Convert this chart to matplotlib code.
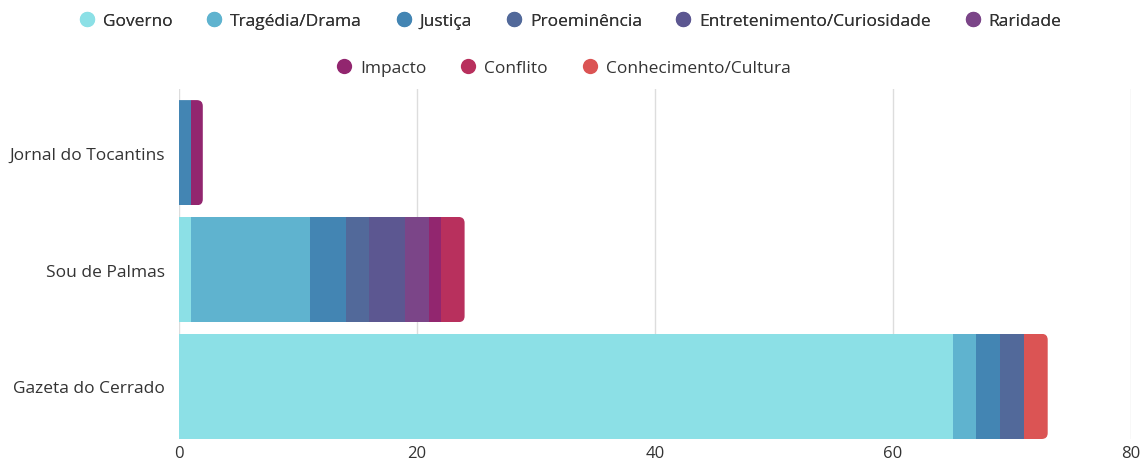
import matplotlib
matplotlib.use("Agg")
import matplotlib.pyplot as plt
from matplotlib.patches import FancyBboxPatch
from matplotlib.lines import Line2D

plt.rcParams['font.family'] = ['Open Sans', 'DejaVu Sans']

outlets = ["Jornal do Tocantins", "Sou de Palmas", "Gazeta do Cerrado"]
categories = ["Governo", "Tragédia/Drama", "Justiça", "Proeminência",
              "Entretenimento/Curiosidade", "Raridade", "Impacto", "Conflito",
              "Conhecimento/Cultura"]
colors = ["#8ce0e6", "#5fb3cf", "#4385b3", "#52699a", "#5c5791",
          "#7b4588", "#92266f", "#b8305d", "#db5454"]
# values per category, in order of outlets
governo = [0, 1, 65]
tragedia = [0, 10, 2]
justica = [1, 3, 2]
proeminencia = [0, 2, 2]
entretenimento = [0, 3, 0]
raridade = [0, 2, 0]
impacto = [1, 1, 0]
conflito = [0, 2, 0]
conhecimento = [0, 0, 2]
series = [governo, tragedia, justica, proeminencia, entretenimento,
          raridade, impacto, conflito, conhecimento]
xticks = [0, 20, 40, 60, 80]

W, H = 1142, 464
fig = plt.figure(figsize=(W / 100, H / 100), dpi=100)
ax = fig.add_axes([179 / W, 1 - 440 / H, (1131 - 179) / W, (440 - 90) / H])

bar_h = 0.9
ypos = list(range(len(outlets)))
totals = [sum(s[i] for s in series) for i in ypos]

clips = []
for i in ypos:
    px_x = (1131 - 179) / 80.0
    px_y = 117.0
    r_x = 6 / px_x
    r_y = 6 / px_y
    clip = FancyBboxPatch((-5, i - bar_h / 2), totals[i] + 5, bar_h,
                          boxstyle=f"round,pad=0,rounding_size={r_x}",
                          mutation_aspect=r_y / r_x,
                          facecolor="none", edgecolor="none")
    ax.add_patch(clip)
    clips.append(clip)

left = [0] * len(outlets)
for s, c, name in zip(series, colors, categories):
    bars = ax.barh(ypos, s, left=left, height=bar_h, color=c, edgecolor="none",
                   label=name, zorder=3)
    for b, i in zip(bars, ypos):
        b.set_clip_path(clips[i])
    left = [l + v for l, v in zip(left, s)]

ax.set_xlim(0, 80)
ax.set_ylim(2.45, -0.545)
ax.set_yticks(ypos)
ax.set_yticklabels(outlets, fontsize=12.5, color="#333333")
ax.set_xticks(xticks)
ax.set_xticklabels([str(t) for t in xticks], fontsize=12, color="#333333")
ax.tick_params(axis="both", length=0)
ax.tick_params(axis="y", pad=10)
ax.tick_params(axis="x", pad=4)
for sp in ax.spines.values():
    sp.set_visible(False)
ax.grid(axis="x", color="#dddddd", linewidth=1, zorder=0)
ax.set_axisbelow(True)

def handles(idx):
    return [Line2D([0], [0], marker="o", linestyle="none", markersize=11,
                   markerfacecolor=colors[k], markeredgecolor="none") for k in idx]

legend_kw = dict(loc="center", frameon=False, fontsize=12.5, handletextpad=0.42,
                 columnspacing=1.9, handlelength=1.0)
row1 = list(range(6))
row2 = [6, 7, 8]
leg1 = fig.legend(handles(row1), [categories[k] for k in row1],
                  bbox_to_anchor=(570 / W, 1 - 22 / H), ncol=6, **legend_kw)
for t in leg1.get_texts():
    t.set_color("#333333")
leg2 = fig.legend(handles(row2), [categories[k] for k in row2],
                  bbox_to_anchor=(563 / W, 1 - 69 / H), ncol=3, **legend_kw)
for t in leg2.get_texts():
    t.set_color("#333333")
fig.add_artist(leg1)

fig.savefig("out.png", dpi=100, facecolor="white")
